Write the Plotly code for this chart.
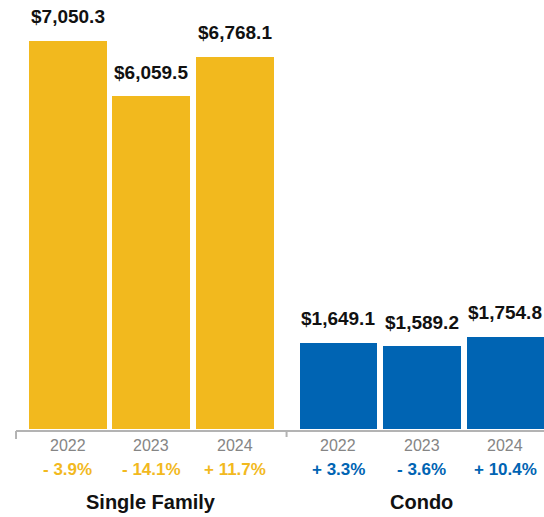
import plotly.graph_objects as go

# Annual totals by property type
years = ["2022", "2023", "2024"]
groups = ["Single Family", "Condo"]
single_family = [7050.3, 6059.5, 6768.1]
condo = [1649.1, 1589.2, 1754.8]
single_family_change = [-3.9, -14.1, 11.7]
condo_change = [3.3, -3.6, 10.4]

YELLOW = "#F2B91E"
BLUE = "#0064B3"
FONT = "Liberation Sans, Arial, Helvetica, sans-serif"

GROUP_GAP = 0.24
BAR_WIDTH = 0.93
PLOT_BOTTOM_PX = 429
HEIGHT = 517

series = [
    (groups[0], single_family, single_family_change, YELLOW),
    (groups[1], condo, condo_change, BLUE),
]


def money(v):
    return "${:,.1f}".format(v)


def change(v):
    return ("+ " if v >= 0 else "- ") + "{:.1f}%".format(abs(v))


fig = go.Figure()
annotations = []
group_centers = []

for g, (name, values, changes, color) in enumerate(series):
    xs = [i + g * (len(years) + GROUP_GAP) for i in range(len(years))]
    group_centers.append(sum(xs) / len(xs))
    fig.add_trace(go.Bar(
        x=xs, y=values, name=name, marker=dict(color=color, line=dict(width=0)),
        width=BAR_WIDTH, hoverinfo="skip",
    ))
    for x, v, yr, c in zip(xs, values, years, changes):
        # value label above each bar
        annotations.append(dict(
            x=x, y=v, xref="x", yref="y", text="<b>%s</b>" % money(v),
            showarrow=False, yanchor="middle", yshift=24,
            font=dict(family=FONT, size=19, color="#111111"),
        ))
        # year label under the axis
        annotations.append(dict(
            x=x, y=0, xref="x", yref="paper", text=yr,
            showarrow=False, yanchor="middle", yshift=-(445 - PLOT_BOTTOM_PX),
            font=dict(family=FONT, size=16, color="#858585"),
        ))
        # year-over-year change
        annotations.append(dict(
            x=x, y=0, xref="x", yref="paper", text="<b>%s</b>" % change(c),
            showarrow=False, yanchor="middle", yshift=-(469 - PLOT_BOTTOM_PX),
            font=dict(family=FONT, size=17, color=color),
        ))
    annotations.append(dict(
        x=group_centers[-1], y=0, xref="x", yref="paper", text="<b>%s</b>" % name,
        showarrow=False, yanchor="middle", yshift=-(502 - PLOT_BOTTOM_PX),
        font=dict(family=FONT, size=20, color="#111111"),
    ))

# baseline with group separator ticks
px = 1.0 / PLOT_BOTTOM_PX
line_style = dict(color="#B3B3B3", width=2)
left_edge = -0.62
mid_gap = (2 + (len(years) + GROUP_GAP)) / 2
shapes = [
    dict(type="line", xref="x", yref="paper", x0=left_edge, x1=6.0,
         y0=-2 * px, y1=-2 * px, line=line_style),
    dict(type="line", xref="x", yref="paper", x0=left_edge, x1=left_edge,
         y0=-2 * px, y1=-10 * px, line=line_style),
    dict(type="line", xref="x", yref="paper", x0=mid_gap, x1=mid_gap,
         y0=-2 * px, y1=-8 * px, line=line_style),
]

fig.update_layout(
    width=544, height=HEIGHT,
    margin=dict(l=0, r=0, t=0, b=HEIGHT - PLOT_BOTTOM_PX, pad=0),
    paper_bgcolor="white", plot_bgcolor="white",
    showlegend=False, bargap=0,
    xaxis=dict(range=[-0.812, 5.703], visible=False, fixedrange=True),
    yaxis=dict(range=[109, 7783], visible=False, fixedrange=True),
    annotations=annotations, shapes=shapes,
)

fig.write_html("out.html", config={"displayModeBar": False})
